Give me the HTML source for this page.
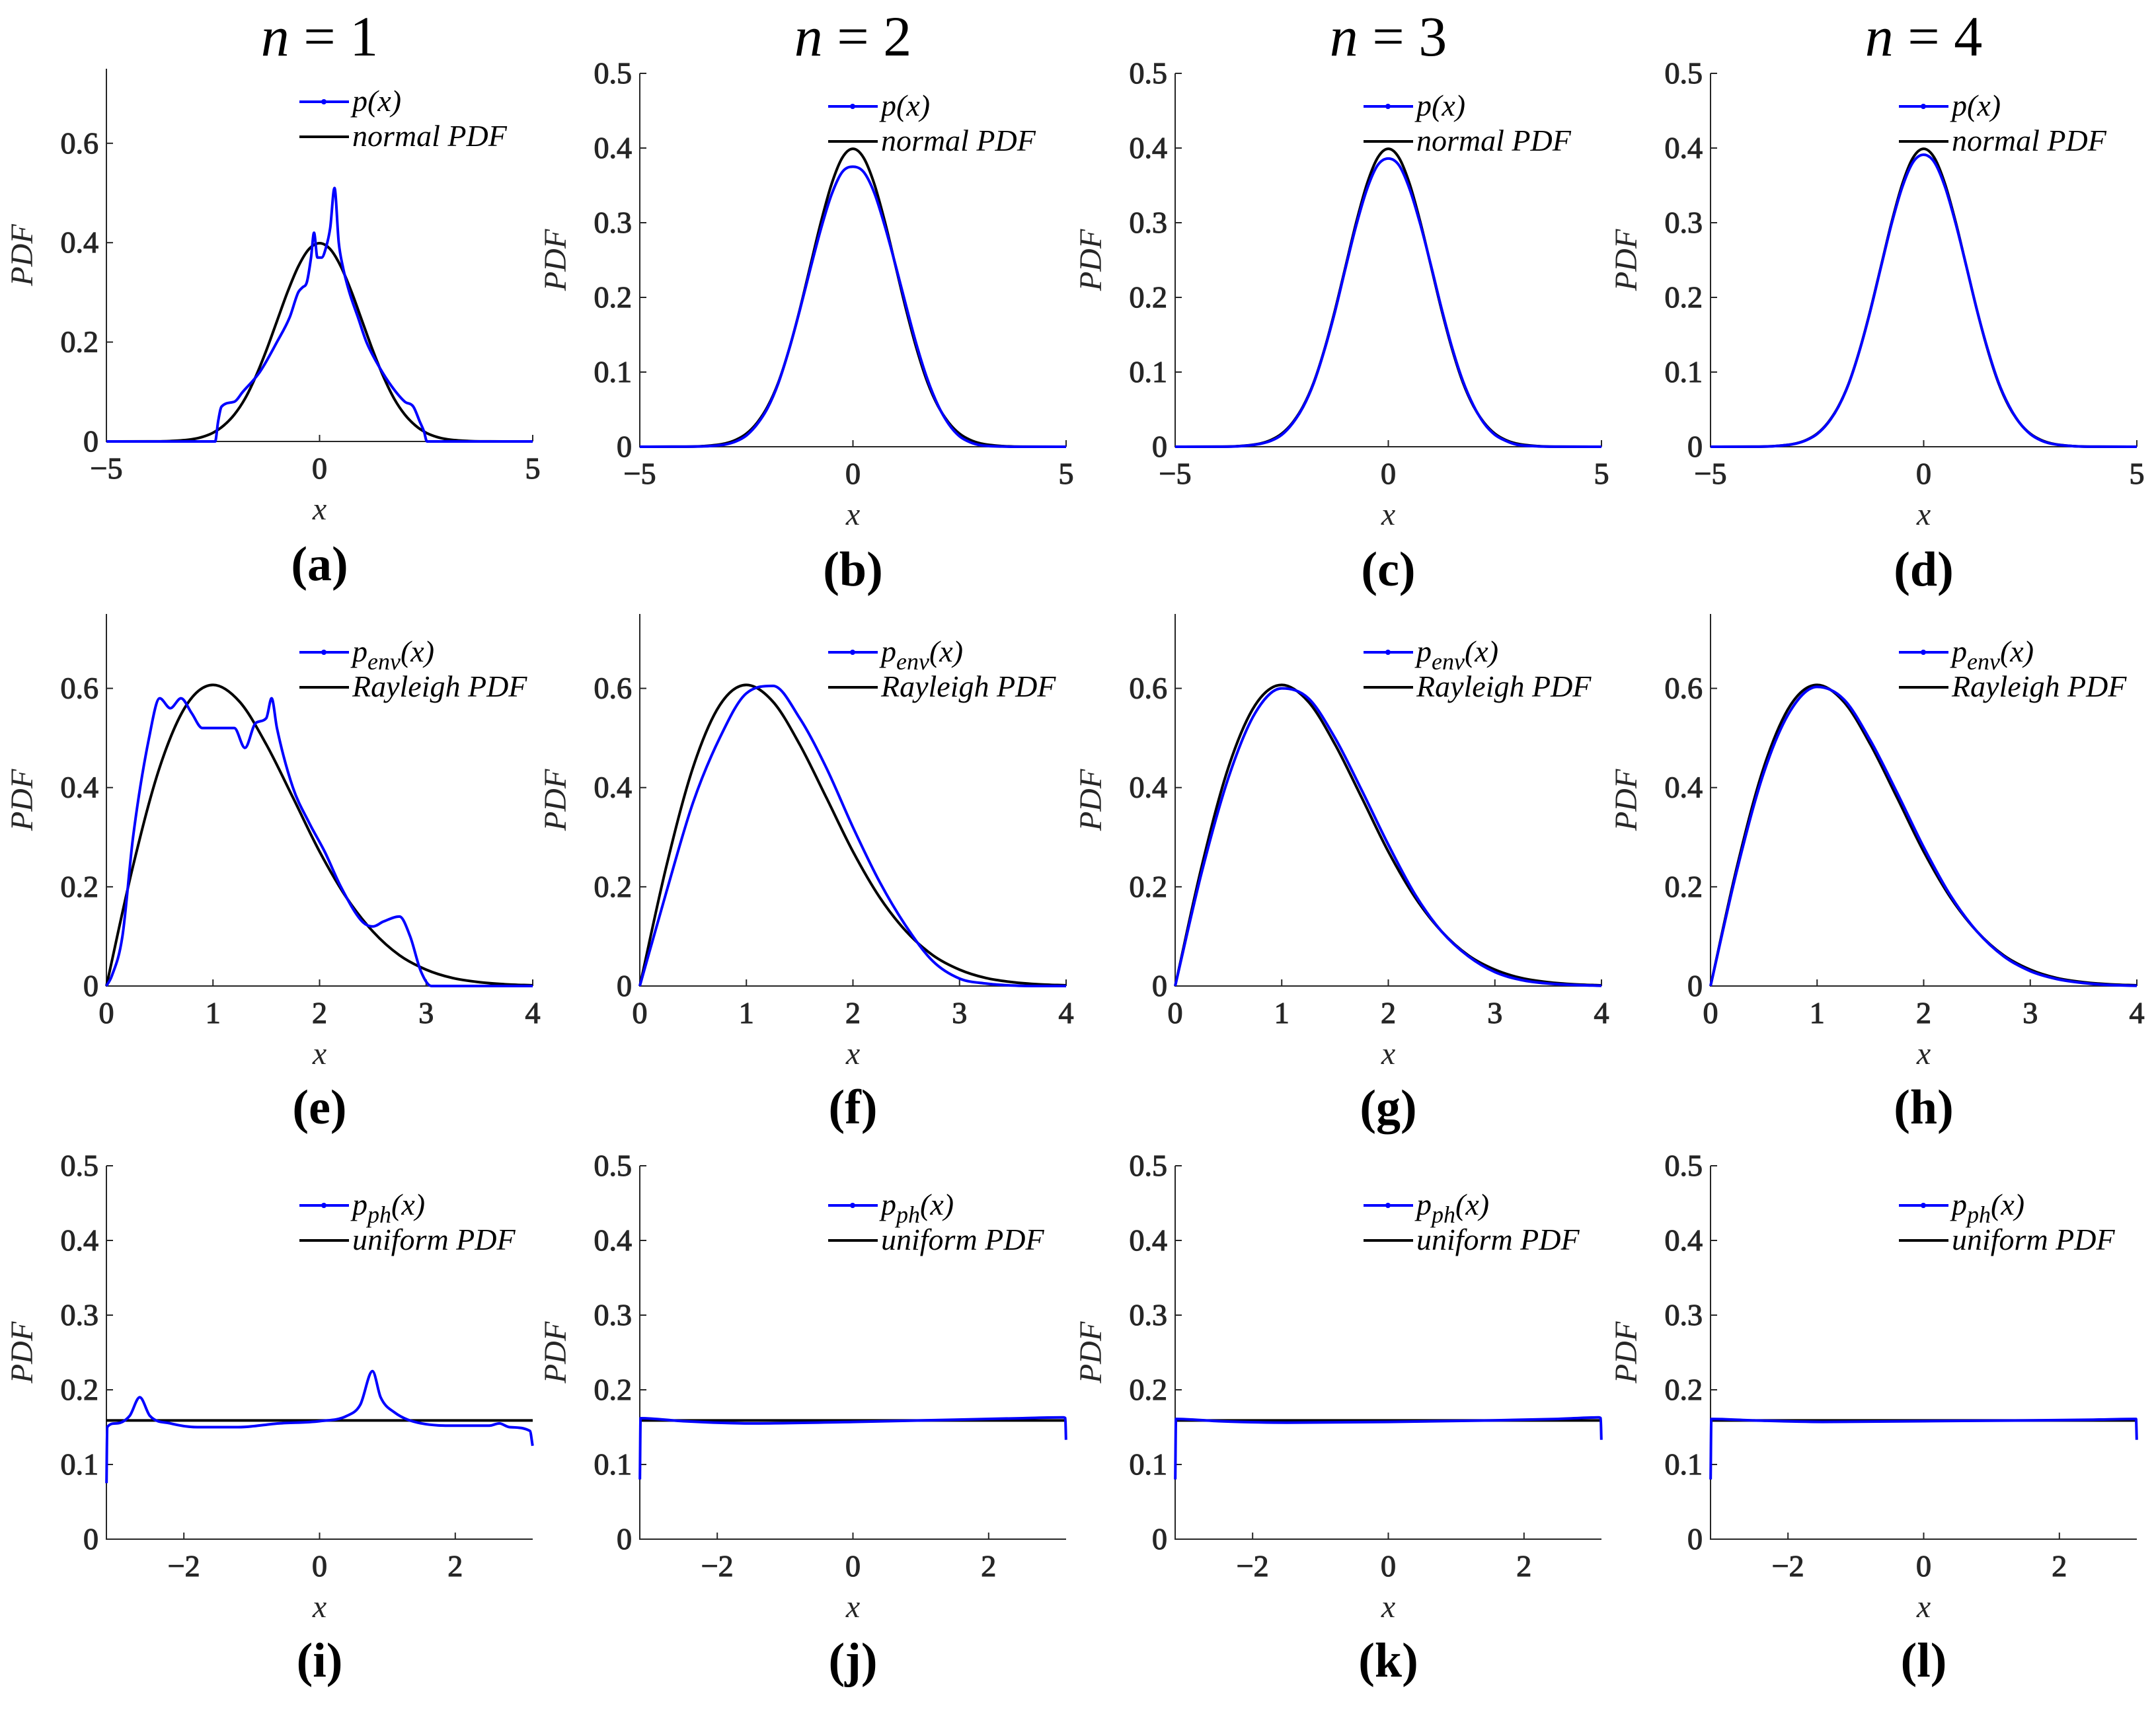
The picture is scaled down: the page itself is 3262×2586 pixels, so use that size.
<!DOCTYPE html>
<html><head><meta charset="utf-8"><style>
html,body{margin:0;padding:0;background:#fff}
svg{display:block}
svg text{font-family:"Liberation Serif","DejaVu Serif",serif}
</style></head><body>
<svg id="fig" width="3262" height="2586" viewBox="0 0 3262 2586" xmlns="http://www.w3.org/2000/svg"></svg>
<script>
// ---- data ----
const normX = [-5,-4,-3.5,-3,-2.75,-2.5,-2.25,-2,-1.75,-1.5,-1.25,-1,-0.75,-0.5,-0.25,0,0.25,0.5,0.75,1,1.25,1.5,1.75,2,2.25,2.5,2.75,3,3.5,4,5];
const normY = [0,0.0001,0.0009,0.0044,0.0091,0.0175,0.032,0.054,0.086,0.130,0.183,0.242,0.301,0.352,0.387,0.399,0.387,0.352,0.301,0.242,0.183,0.130,0.086,0.054,0.032,0.0175,0.0091,0.0044,0.0009,0.0001,0];
const pAX = [-5,-2.45,-2.38,-2.3,-2.0,-1.8,-1.4,-1.0,-0.7,-0.5,-0.4,-0.3,-0.2,-0.13,-0.05,0.05,0.15,0.25,0.35,0.45,0.55,0.7,0.9,1.1,1.4,1.7,2.0,2.2,2.35,2.45,2.52,5];
const pAY = [0,0,0.04,0.07,0.08,0.10,0.14,0.20,0.25,0.30,0.31,0.32,0.37,0.42,0.37,0.37,0.39,0.43,0.51,0.40,0.35,0.30,0.25,0.20,0.15,0.11,0.08,0.07,0.04,0.02,0,0];
const pBY = [0,0.0001,0.0005,0.003,0.007,0.015,0.030,0.052,0.085,0.130,0.182,0.238,0.292,0.338,0.368,0.375,0.368,0.340,0.295,0.243,0.188,0.135,0.090,0.055,0.030,0.014,0.006,0.002,0.0003,0,0];
const pCY = [0,0.0001,0.0007,0.004,0.008,0.016,0.031,0.053,0.085,0.129,0.181,0.240,0.297,0.345,0.377,0.386,0.377,0.345,0.298,0.243,0.185,0.132,0.088,0.055,0.031,0.016,0.008,0.003,0.0006,0.0001,0];
const pDY = [0,0.0001,0.0008,0.0042,0.0088,0.017,0.0315,0.0535,0.0855,0.1295,0.182,0.241,0.299,0.348,0.381,0.391,0.381,0.348,0.299,0.242,0.183,0.131,0.087,0.055,0.032,0.017,0.0085,0.004,0.0008,0.0001,0];
const rayX = [0,0.25,0.5,0.75,1,1.25,1.5,1.75,2,2.25,2.5,2.75,3,3.25,3.5,3.75,4];
const rayY = [0,0.242,0.441,0.566,0.607,0.573,0.487,0.380,0.271,0.179,0.110,0.062,0.033,0.016,0.0077,0.0034,0.0013];
const envEX = [0,0.05,0.15,0.25,0.4,0.5,0.6,0.7,0.8,0.9,1.0,1.2,1.3,1.4,1.5,1.55,1.6,1.75,1.9,2.05,2.2,2.4,2.5,2.6,2.75,2.85,2.95,3.05,4];
const envEY = [0,0.02,0.10,0.30,0.50,0.58,0.56,0.58,0.55,0.52,0.52,0.52,0.48,0.53,0.54,0.58,0.52,0.40,0.33,0.27,0.20,0.13,0.12,0.13,0.14,0.10,0.03,0,0];
const envFY = [0,0.19,0.37,0.50,0.59,0.605,0.54,0.44,0.32,0.21,0.12,0.05,0.015,0.005,0.001,0,0];
const envGY = [0,0.23,0.42,0.55,0.60,0.58,0.50,0.395,0.285,0.185,0.11,0.06,0.028,0.012,0.005,0.002,0.0005];
const envHY = [0,0.235,0.43,0.555,0.603,0.578,0.495,0.39,0.28,0.183,0.11,0.06,0.03,0.014,0.006,0.002,0.0005];
const uniX = [-3.1416,3.1416];
const uniY = [0.159,0.159];
const phIX = [-3.14,-3.13,-3.0,-2.8,-2.65,-2.5,-2.2,-1.8,-1.2,-0.6,0,0.4,0.6,0.78,0.9,1.1,1.5,2.0,2.5,2.65,2.8,3.1,3.14];
const phIY = [0.075,0.15,0.155,0.165,0.19,0.165,0.155,0.15,0.15,0.155,0.158,0.165,0.18,0.225,0.19,0.17,0.155,0.152,0.152,0.155,0.15,0.145,0.125];
const phX = [-3.14,-3.13,-2.5,-1.5,0,1.5,2.5,3.1,3.13,3.14];
const phJY = [0.08,0.162,0.158,0.155,0.157,0.160,0.162,0.163,0.162,0.133];
const phKY = [0.08,0.161,0.158,0.156,0.157,0.159,0.161,0.163,0.162,0.133];
const phLY = [0.08,0.161,0.159,0.157,0.158,0.159,0.160,0.161,0.161,0.133];
const titles = ["n = 1","n = 2","n = 3","n = 4"];
const letters = "abcdefghijkl";

const NS="http://www.w3.org/2000/svg";
const svg=document.getElementById('fig');
function mk(tag,attrs,parent){const e=document.createElementNS(NS,tag);for(const k in attrs)e.setAttribute(k,attrs[k]);(parent||svg).appendChild(e);return e;}
function smoothPath(P){
 const n=P.length; if(n<3) return 'M'+P.map(p=>p.join(',')).join('L');
 const d=[],m=[];
 for(let i=0;i<n-1;i++){const dx=P[i+1][0]-P[i][0];d.push(dx===0?0:(P[i+1][1]-P[i][1])/dx);}
 m[0]=d[0];m[n-1]=d[n-2];
 for(let i=1;i<n-1;i++){m[i]=(d[i-1]*d[i]<=0)?0:(d[i-1]+d[i])/2;}
 for(let i=0;i<n-1;i++){if(d[i]===0){m[i]=0;m[i+1]=0;continue;}const a=m[i]/d[i],b=m[i+1]/d[i],s=a*a+b*b;if(s>9){const t=3/Math.sqrt(s);m[i]=t*a*d[i];m[i+1]=t*b*d[i];}}
 let s='M'+P[0][0]+','+P[0][1];
 for(let i=0;i<n-1;i++){const h=(P[i+1][0]-P[i][0])/3;
  s+=`C${P[i][0]+h},${P[i][1]+m[i]*h} ${P[i+1][0]-h},${P[i+1][1]-m[i+1]*h} ${P[i+1][0]},${P[i+1][1]}`;}
 return s;
}

const colL=[161,968,1778,2588], W=645;
const rows=[
 {top:[104,111,111,111],bot:[668,676,676,676]},
 {top:[929,929,929,929],bot:[1492,1492,1492,1492]},
 {top:[1764,1764,1764,1764],bot:[2329,2329,2329,2329]}];

const panels=[];
for(let c=0;c<4;c++){
 panels.push({r:0,c,xmin:-5,xmax:5,ymax:c==0?0.75:0.5,xt:[-5,0,5],xl:["\u22125","0","5"],yt:c==0?[0,0.2,0.4,0.6]:[0,0.1,0.2,0.3,0.4,0.5],
   blue:[c==0?pAX:normX,[pAY,pBY,pCY,pDY][c]],black:[normX,normY],leg:["p(x)","normal PDF"]});
}
for(let c=0;c<4;c++){
 panels.push({r:1,c,xmin:0,xmax:4,ymax:0.75,xt:[0,1,2,3,4],xl:["0","1","2","3","4"],yt:[0,0.2,0.4,0.6],
   blue:[c==0?envEX:rayX,[envEY,envFY,envGY,envHY][c]],black:[rayX,rayY],leg:["env","Rayleigh PDF"]});
}
for(let c=0;c<4;c++){
 panels.push({r:2,c,xmin:-3.1416,xmax:3.1416,ymax:0.5,xt:[-2,0,2],xl:["\u22122","0","2"],yt:[0,0.1,0.2,0.3,0.4,0.5],
   blue:[c==0?phIX:phX,[phIY,phJY,phKY,phLY][c]],black:[uniX,uniY],leg:["ph","uniform PDF"]});
}

panels.forEach((p,i)=>{
 const L=colL[p.c], R=L+W, T=rows[p.r].top[p.c], B=rows[p.r].bot[p.c];
 const sx=v=>L+(v-p.xmin)/(p.xmax-p.xmin)*W;
 const sy=v=>B-(v/p.ymax)*(B-T);
 const g=mk('g',{});
 
 
 const ax=mk('path',{d:`M${L},${T}V${B}H${R}`,stroke:'#262626','stroke-width':2,fill:'none'},g);
 
 
 p.yt.forEach(v=>{
  mk('line',{x1:L,x2:L+10,y1:sy(v),y2:sy(v),stroke:'#262626','stroke-width':2},g);
  const t=mk('text',{x:L-12,y:sy(v)+15,'text-anchor':'end','font-size':46,fill:'#262626',stroke:'#262626','stroke-width':1.2},g);
  t.textContent=v===0?"0":v.toFixed(1);
  
  
 });
 p.xt.forEach((v,k)=>{
  mk('line',{x1:sx(v),x2:sx(v),y1:B,y2:B-10,stroke:'#262626','stroke-width':2},g);
  const t=mk('text',{x:sx(v),y:B+56,'text-anchor':'middle','font-size':46,fill:'#262626',stroke:'#262626','stroke-width':1.2},g);
  t.textContent=p.xl[k];
  
  
 });
 const xl=mk('text',{x:L+W/2,y:B+118,'text-anchor':'middle','font-size':48,'font-style':'italic',fill:'#262626'},g);
 xl.textContent='x';
 
 
 const yl=mk('text',{x:0,y:0,transform:`translate(${L-112},${(T+B)/2}) rotate(-90)`,'text-anchor':'middle','font-size':48,'font-style':'italic',fill:'#262626'},g);
 yl.textContent='PDF';
 
 
 const bk=mk('path',{d:smoothPath(p.black[0].map((x,k)=>[sx(x),sy(p.black[1][k])])),fill:'none',stroke:'#000','stroke-width':4},g);
 
 
 const bl=mk('path',{d:smoothPath(p.blue[0].map((x,k)=>[sx(x),sy(p.blue[1][k])])),fill:'none',stroke:'#0000ff','stroke-width':4,'stroke-linejoin':'round'},g);
 
 
 const lx=L+(p.c==0?292:285), ly1=T+(p.r==0?50:(p.r==1?58:60)), ly2=ly1+53;
 mk('line',{x1:lx,x2:lx+75,y1:ly1,y2:ly1,stroke:'#0000ff','stroke-width':4},g);
 mk('circle',{cx:lx+37,cy:ly1,r:4,fill:'#0000ff'},g);
 mk('line',{x1:lx,x2:lx+75,y1:ly2,y2:ly2,stroke:'#000','stroke-width':4},g);
 const t1=mk('text',{x:lx+80,y:ly1+14,'font-size':46,'font-style':'italic',fill:'#000'},g);
 if(p.r==0){t1.textContent='p(x)';}
 else{const a=mk('tspan',{},t1);a.textContent='p';const s=mk('tspan',{'font-size':36,dy:12},t1);s.textContent=p.leg[0];const b=mk('tspan',{dy:-12},t1);b.textContent='(x)';}
 
 
 const t2=mk('text',{x:lx+80,y:ly2+14,'font-size':46,'font-style':'italic',fill:'#000'},g);
 t2.textContent=p.leg[1];
 
 
 const sl=mk('text',{x:L+W/2,y:B+(p.r==0?210:208),'text-anchor':'middle','font-size':74,'font-weight':'bold',fill:'#000'},g);
 sl.textContent='('+letters[i]+')';
 
 
});
titles.forEach((s,c)=>{
 const t=mk('text',{x:colL[c]+W/2,y:84,'text-anchor':'middle','font-size':86,fill:'#000'});
 const a=mk('tspan',{'font-style':'italic'},t);a.textContent='n';
 const b=mk('tspan',{},t);b.textContent=s.slice(1);
 
 
});
</script>
</body></html>
